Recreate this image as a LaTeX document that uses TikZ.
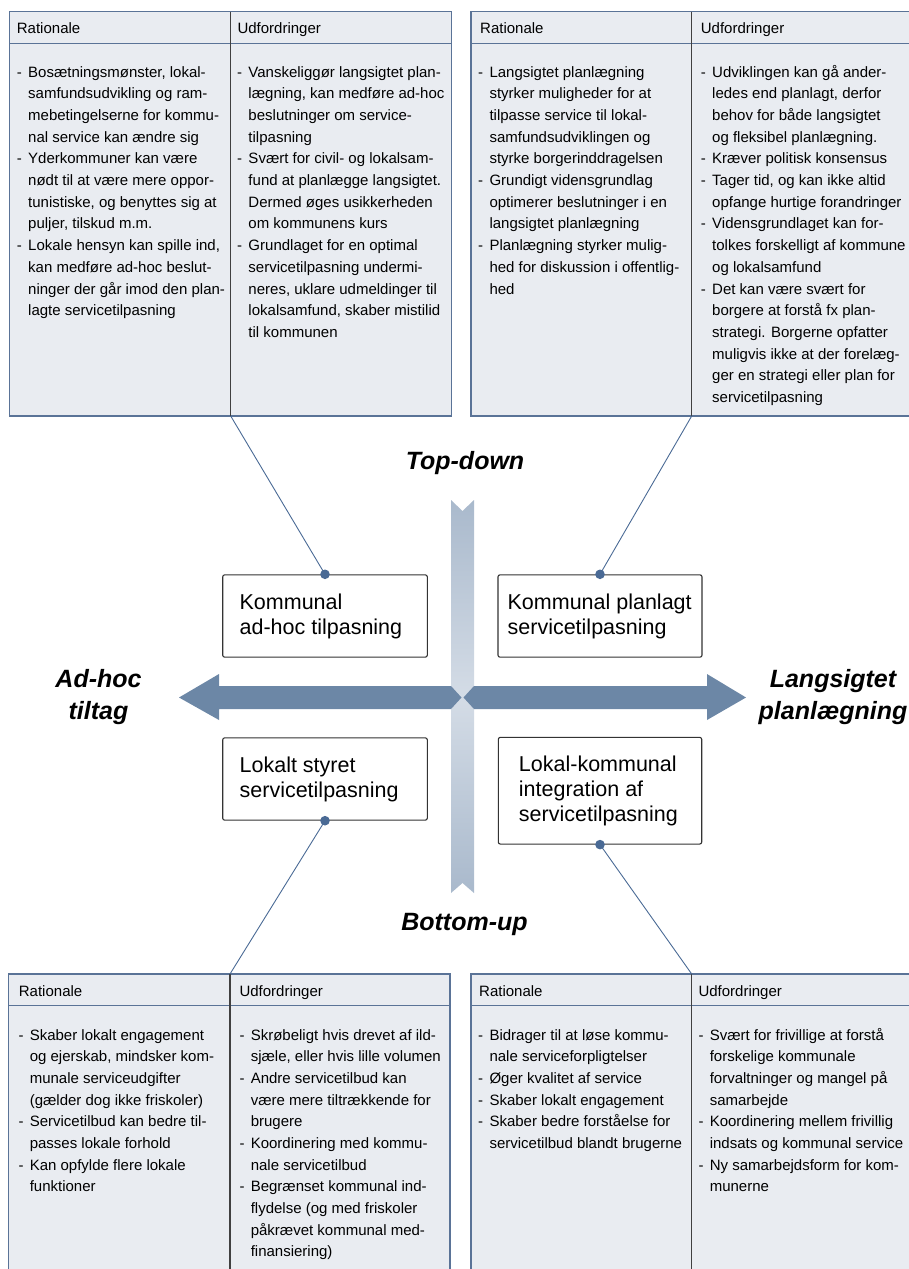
\documentclass[tikz,border=0pt]{standalone}
\usepackage{fontspec}
\setmainfont{Liberation Sans}
\usepackage{tikz}
\usetikzlibrary{%
  calc,%
  positioning}

\definecolor{fondtab}{HTML}{E9ECF1}
\definecolor{bordtab}{HTML}{5A7397}
\definecolor{fleche}{HTML}{6C87A6}
\definecolor{barrebout}{HTML}{A9B9CC}
\definecolor{barremilieu}{HTML}{D4DCE6}
\definecolor{point}{HTML}{4A6A95}

\newcommand{\txttab}{\fontsize{15}{21.67}\selectfont}
\newcommand{\txtcase}{\fontsize{21.5}{25}\selectfont}
\newcommand{\txtaxe}{\fontsize{25}{32}\selectfont\bfseries\itshape}
\newcommand{\puces}[1]{\begin{tabular}[t]{@{}l@{\hspace{6.3pt}}l@{}}#1\end{tabular}}

\tikzset{
  tableau/.style={draw=bordtab, fill=fondtab, line width=1.3pt},
  entete/.style={draw=bordtab, line width=1.1pt},
  colonne/.style={draw=black!75, line width=1.1pt},
  titre/.style={anchor=base west, inner sep=0pt, font=\txttab},
  liste/.style={anchor=base west, inner sep=0pt, font=\txttab},
  quadrant/.style={draw=black!80, fill=white, rounded corners=2pt, line width=1.1pt,
    inner sep=0pt, minimum width=204.6pt, minimum height=82.3pt},
  textecase/.style={inner sep=0pt, align=left, font=\txtcase},
  axe/.style={inner sep=0pt, align=center, font=\txtaxe},
  lien/.style={draw=point, line width=0.9pt},
}

\begin{document}
\begin{tikzpicture}
\begin{scope}[x=1pt,y=-1pt]
\useasboundingbox (0,0) rectangle (908,1269);

% tableau haut gauche
\draw[tableau] (9.3,11.7) rectangle (451.7,416);
\draw[entete] (9.3,43.3) -- (451.7,43.3);
\draw[colonne] (230.7,11.7) -- (230.7,416) coordinate (hg);
\node[titre] (hg-r) at (16.7,33.3) {Rationale};
\node[titre] (hg-u) at (237.3,33.3) {Udfordringer};
\node[liste] (hg-rl) at (16.7,77.3) {\puces{%
- & Bosætningsmønster, lokal-\\
  & samfundsudvikling og ram-\\
  & mebetingelserne for kommu-\\
  & nal service kan ændre sig\\
- & Yderkommuner kan være\\
  & nødt til at være mere oppor-\\
  & tunistiske, og benyttes sig at\\
  & puljer, tilskud m.m.\\
- & Lokale hensyn kan spille ind,\\
  & kan medføre ad-hoc beslut-\\
  & ninger der går imod den plan-\\
  & lagte servicetilpasning}};
\node[liste] (hg-ul) at (237,77.3) {\puces{%
- & Vanskeliggør langsigtet plan-\\
  & lægning, kan medføre ad-hoc\\
  & beslutninger om service-\\
  & tilpasning\\
- & Svært for civil- og lokalsam-\\
  & fund at planlægge langsigtet.\\
  & Dermed øges usikkerheden\\
  & om kommunens kurs\\
- & Grundlaget for en optimal\\
  & servicetilpasning undermi-\\
  & neres, uklare udmeldinger til\\
  & lokalsamfund, skaber mistilid\\
  & til kommunen}};

% tableau haut droite
\draw[tableau] (471,11.7) rectangle (912,416);
\draw[entete] (471,43.3) -- (912,43.3);
\draw[colonne] (691.7,11.7) -- (691.7,416) coordinate (hd);
\node[titre] (hd-r) at (480,33.3) {Rationale};
\node[titre] (hd-u) at (700.7,33.3) {Udfordringer};
\node[liste] (hd-rl) at (478,77.3) {\puces{%
- & Langsigtet planlægning\\
  & styrker muligheder for at\\
  & tilpasse service til lokal-\\
  & samfundsudviklingen og\\
  & styrke borgerinddragelsen\\
- & Grundigt vidensgrundlag\\
  & optimerer beslutninger i en\\
  & langsigtet planlægning\\
- & Planlægning styrker mulig-\\
  & hed for diskussion i offentlig-\\
  & hed}};
\node[liste] (hd-ul) at (700.7,77.3) {\puces{%
- & Udviklingen kan gå ander-\\
  & ledes end planlagt, derfor\\
  & behov for både langsigtet\\
  & og fleksibel planlægning.\\
- & Kræver politisk konsensus\\
- & Tager tid, og kan ikke altid\\
  & opfange hurtige forandringer\\
- & Vidensgrundlaget kan for-\\
  & tolkes forskelligt af kommune\\
  & og lokalsamfund\\
- & Det kan være svært for\\
  & borgere at forstå fx plan-\\
  & strategi. Borgerne opfatter\\
  & muligvis ikke at der forelæg-\\
  & ger en strategi eller plan for\\
  & servicetilpasning}};

% tableau bas gauche
\draw[tableau] (8.7,974) rectangle (450,1275);
\draw[entete] (8.7,1005.7) -- (450,1005.7);
\draw[colonne] (230,1275) -- (230,974) coordinate (bg);
\node[titre] (bg-r) at (18.7,996) {Rationale};
\node[titre] (bg-u) at (239.3,996) {Udfordringer};
\node[liste] (bg-rl) at (18.3,1040) {\puces{%
- & Skaber lokalt engagement\\
  & og ejerskab, mindsker kom-\\
  & munale serviceudgifter\\
  & (gælder dog ikke friskoler)\\
- & Servicetilbud kan bedre til-\\
  & passes lokale forhold\\
- & Kan opfylde flere lokale\\
  & funktioner}};
\node[liste] (bg-ul) at (239.3,1040) {\puces{%
- & Skrøbeligt hvis drevet af ild-\\
  & sjæle, eller hvis lille volumen\\
- & Andre servicetilbud kan\\
  & være mere tiltrækkende for\\
  & brugere\\
- & Koordinering med kommu-\\
  & nale servicetilbud\\
- & Begrænset kommunal ind-\\
  & flydelse (og med friskoler\\
  & påkrævet kommunal med-\\
  & finansiering)}};

% tableau bas droite
\draw[tableau] (471,974) rectangle (912,1275);
\draw[entete] (471,1005.7) -- (912,1005.7);
\draw[colonne] (691.7,1275) -- (691.7,974) coordinate (bd);
\node[titre] (bd-r) at (479,996) {Rationale};
\node[titre] (bd-u) at (698.3,996) {Udfordringer};
\node[liste] (bd-rl) at (478,1040) {\puces{%
- & Bidrager til at løse kommu-\\
  & nale serviceforpligtelser\\
- & Øger kvalitet af service\\
- & Skaber lokalt engagement\\
- & Skaber bedre forståelse for\\
  & servicetilbud blandt brugerne}};
\node[liste] (bd-ul) at (698.3,1040) {\puces{%
- & Svært for frivillige at forstå\\
  & forskelige kommunale\\
  & forvaltninger og mangel på\\
  & samarbejde\\
- & Koordinering mellem frivillig\\
  & indsats og kommunal service\\
- & Ny samarbejdsform for kom-\\
  & munerne}};

% axes
\shade[top color=barrebout, bottom color=barrebout, middle color=barremilieu]
  (451,500) -- (462.5,511) -- (474,500) -- (474,893) -- (462.5,883) -- (451,893) -- cycle;
\fill[fleche] (179,697.5) -- (219,674) -- (219,686) -- (451,686) -- (461.5,697.5)
  -- (451,709) -- (219,709) -- (219,720) -- cycle;
\fill[fleche] (746,697.5) -- (707,674) -- (707,686) -- (474,686) -- (463.5,697.5)
  -- (474,709) -- (707,709) -- (707,720) -- cycle;
\node[axe, anchor=base] (td) at (465,469.5) {Top-down};
\node[axe, anchor=base] (bu) at (464.5,930) {Bottom-up};
\node[axe] (ah) at (98.5,697.5) {Ad-hoc\\tiltag};
\node[axe] (ls) at (833,697.5) {Langsigtet\\planlægning};

% les quatre cases
\node[quadrant] (khoc) at (325,616) {};
\node[textecase, right=17.3pt of khoc.west] (khoc-t) {Kommunal\\ad-hoc tilpasning};
\node[quadrant, minimum width=204pt] (kplan) at (600,616) {};
\node[textecase, right=10pt of kplan.west] (kplan-t) {Kommunal planlagt\\servicetilpasning};
\node[quadrant] (lstyr) at (325,779) {};
\node[textecase, right=17.3pt of lstyr.west] (lstyr-t) {Lokalt styret\\servicetilpasning};
\node[quadrant, minimum width=203.4pt, minimum height=106.7pt] (lkint) at (600,790.7) {};
\node[textecase, right=21pt of lkint.west] (lkint-t) {Lokal-kommunal\\integration af\\servicetilpasning};

% liens vers les tableaux
\draw[lien] (khoc.north) -- (hg);
\draw[lien] (kplan.north) -- (hd);
\draw[lien] (lstyr.south) -- (bg);
\draw[lien] (lkint.south) -- (bd);
\fill[point] (khoc.north) circle (4.8pt);
\fill[point] (kplan.north) circle (4.8pt);
\fill[point] (lstyr.south) circle (4.8pt);
\fill[point] (lkint.south) circle (4.8pt);
\end{scope}
\end{tikzpicture}
\end{document}
